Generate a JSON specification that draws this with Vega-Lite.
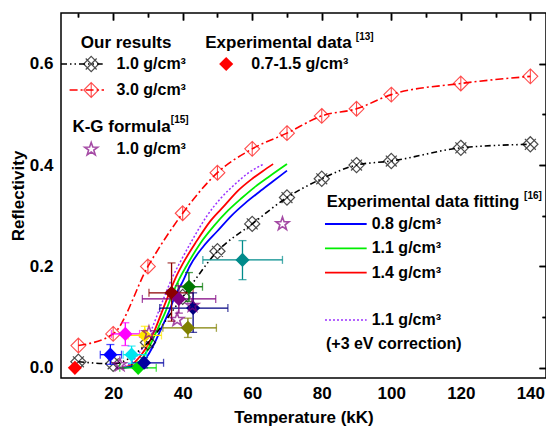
{
  "$schema": "https://vega.github.io/schema/vega-lite/v6.json",
  "width": 485,
  "height": 365,
  "autosize": {"type": "none"},
  "padding": {"left": 61, "top": 13, "right": 0, "bottom": 48},
  "background": "white",
  "config": {
    "view": {"stroke": "black", "strokeWidth": 1.5},
    "axis": {"grid": false, "domain": false, "labelFont": "Liberation Sans", "labelFontWeight": "bold", "labelFontSize": 17, "labelColor": "black", "titleFont": "Liberation Sans", "titleFontWeight": "bold", "titleFontSize": 17, "titleColor": "black", "tickColor": "black", "tickWidth": 1.5}
  },
  "datasets": {
    "one": [{}],
    "ours": [
      {"rho": "1.0", "T": 10, "R": 0.012}, {"rho": "1.0", "T": 20, "R": 0.008}, {"rho": "1.0", "T": 30, "R": 0.05}, {"rho": "1.0", "T": 40, "R": 0.14}, {"rho": "1.0", "T": 50, "R": 0.23}, {"rho": "1.0", "T": 60, "R": 0.284}, {"rho": "1.0", "T": 70, "R": 0.336}, {"rho": "1.0", "T": 80, "R": 0.373}, {"rho": "1.0", "T": 90, "R": 0.4}, {"rho": "1.0", "T": 100, "R": 0.408}, {"rho": "1.0", "T": 120, "R": 0.434}, {"rho": "1.0", "T": 140, "R": 0.441},
      {"rho": "3.0", "T": 10, "R": 0.044}, {"rho": "3.0", "T": 20, "R": 0.067}, {"rho": "3.0", "T": 30, "R": 0.2}, {"rho": "3.0", "T": 40, "R": 0.305}, {"rho": "3.0", "T": 50, "R": 0.385}, {"rho": "3.0", "T": 60, "R": 0.432}, {"rho": "3.0", "T": 70, "R": 0.463}, {"rho": "3.0", "T": 80, "R": 0.497}, {"rho": "3.0", "T": 90, "R": 0.511}, {"rho": "3.0", "T": 100, "R": 0.539}, {"rho": "3.0", "T": 120, "R": 0.561}, {"rho": "3.0", "T": 140, "R": 0.575}
    ],
    "exp": [
      {"set": 1, "T": 9, "R": 0.0, "Tlo": 9, "Thi": 9, "Rlo": 0.0, "Rhi": 0.0},
      {"set": 2, "T": 19.2, "R": 0.026, "Tlo": 16.3, "Thi": 22.4, "Rlo": 0.007, "Rhi": 0.046},
      {"set": 3, "T": 23.5, "R": 0.067, "Tlo": 19.5, "Thi": 27.6, "Rlo": 0.044, "Rhi": 0.089},
      {"set": 4, "T": 25.3, "R": 0.026, "Tlo": 22.9, "Thi": 29.6, "Rlo": 0.009, "Rhi": 0.043},
      {"set": 5, "T": 27.2, "R": 0.0, "Tlo": 21.9, "Thi": 32.4, "Rlo": 0.0, "Rhi": 0.0},
      {"set": 6, "T": 29.1, "R": 0.064, "Tlo": 24.3, "Thi": 33.9, "Rlo": 0.043, "Rhi": 0.082},
      {"set": 7, "T": 28.9, "R": 0.01, "Tlo": 25.3, "Thi": 34.5, "Rlo": 0.0, "Rhi": 0.02},
      {"set": 8, "T": 36.8, "R": 0.148, "Tlo": 30.3, "Thi": 43.0, "Rlo": 0.092, "Rhi": 0.207},
      {"set": 9, "T": 38.9, "R": 0.136, "Tlo": 28.4, "Thi": 49.5, "Rlo": 0.108, "Rhi": 0.162},
      {"set": 10, "T": 41.8, "R": 0.16, "Tlo": 38.7, "Thi": 45.7, "Rlo": 0.131, "Rhi": 0.188},
      {"set": 11, "T": 43.0, "R": 0.118, "Tlo": 33.4, "Thi": 53.0, "Rlo": 0.07, "Rhi": 0.148},
      {"set": 12, "T": 41.5, "R": 0.079, "Tlo": 34.3, "Thi": 49.7, "Rlo": 0.06, "Rhi": 0.098},
      {"set": 13, "T": 57.2, "R": 0.213, "Tlo": 45.8, "Thi": 68.7, "Rlo": 0.174, "Rhi": 0.251}
    ],
    "kg": [
      {"T": 21.9, "R": 0.006}, {"T": 30.3, "R": 0.069}, {"T": 38.4, "R": 0.095}, {"T": 42.8, "R": 0.123}, {"T": 68.7, "R": 0.284}
    ],
    "fit": [
      {"c": "1.4", "T": 22, "R": 0.0}, {"c": "1.4", "T": 25, "R": 0.005}, {"c": "1.4", "T": 28, "R": 0.025}, {"c": "1.4", "T": 30, "R": 0.045}, {"c": "1.4", "T": 32, "R": 0.075}, {"c": "1.4", "T": 34, "R": 0.11}, {"c": "1.4", "T": 36, "R": 0.145}, {"c": "1.4", "T": 38, "R": 0.178}, {"c": "1.4", "T": 40, "R": 0.205}, {"c": "1.4", "T": 44, "R": 0.25}, {"c": "1.4", "T": 48, "R": 0.29}, {"c": "1.4", "T": 52, "R": 0.32}, {"c": "1.4", "T": 56, "R": 0.35}, {"c": "1.4", "T": 60, "R": 0.373}, {"c": "1.4", "T": 63, "R": 0.388}, {"c": "1.4", "T": 66, "R": 0.402},
      {"c": "1.1", "T": 22.5, "R": 0.0}, {"c": "1.1", "T": 26, "R": 0.005}, {"c": "1.1", "T": 29, "R": 0.025}, {"c": "1.1", "T": 31, "R": 0.05}, {"c": "1.1", "T": 33, "R": 0.08}, {"c": "1.1", "T": 35, "R": 0.11}, {"c": "1.1", "T": 37, "R": 0.145}, {"c": "1.1", "T": 39, "R": 0.175}, {"c": "1.1", "T": 41, "R": 0.2}, {"c": "1.1", "T": 45, "R": 0.245}, {"c": "1.1", "T": 49, "R": 0.28}, {"c": "1.1", "T": 53, "R": 0.31}, {"c": "1.1", "T": 57, "R": 0.335}, {"c": "1.1", "T": 61, "R": 0.358}, {"c": "1.1", "T": 65, "R": 0.378}, {"c": "1.1", "T": 70, "R": 0.402},
      {"c": "0.8", "T": 23, "R": 0.0}, {"c": "0.8", "T": 27, "R": 0.005}, {"c": "0.8", "T": 30, "R": 0.025}, {"c": "0.8", "T": 32, "R": 0.05}, {"c": "0.8", "T": 34, "R": 0.08}, {"c": "0.8", "T": 36, "R": 0.11}, {"c": "0.8", "T": 38, "R": 0.145}, {"c": "0.8", "T": 40, "R": 0.17}, {"c": "0.8", "T": 42, "R": 0.2}, {"c": "0.8", "T": 46, "R": 0.24}, {"c": "0.8", "T": 50, "R": 0.27}, {"c": "0.8", "T": 54, "R": 0.3}, {"c": "0.8", "T": 58, "R": 0.325}, {"c": "0.8", "T": 62, "R": 0.347}, {"c": "0.8", "T": 66, "R": 0.368}, {"c": "0.8", "T": 70, "R": 0.389},
      {"c": "1.1+3eV", "T": 21, "R": 0.0}, {"c": "1.1+3eV", "T": 24, "R": 0.005}, {"c": "1.1+3eV", "T": 27, "R": 0.025}, {"c": "1.1+3eV", "T": 29, "R": 0.045}, {"c": "1.1+3eV", "T": 31, "R": 0.075}, {"c": "1.1+3eV", "T": 33, "R": 0.11}, {"c": "1.1+3eV", "T": 35, "R": 0.145}, {"c": "1.1+3eV", "T": 37, "R": 0.178}, {"c": "1.1+3eV", "T": 39, "R": 0.205}, {"c": "1.1+3eV", "T": 43, "R": 0.255}, {"c": "1.1+3eV", "T": 47, "R": 0.3}, {"c": "1.1+3eV", "T": 51, "R": 0.335}, {"c": "1.1+3eV", "T": 55, "R": 0.362}, {"c": "1.1+3eV", "T": 59, "R": 0.385}, {"c": "1.1+3eV", "T": 63.3, "R": 0.402}
    ]
  },
  "resolve": {"axis": {"x": "independent", "y": "independent"}, "scale": {"color": "independent"}},
  "layer": [
    {
      "data": {"name": "fit"},
      "transform": [{"filter": "datum.c != '1.1+3eV'"}],
      "mark": {"type": "line", "strokeWidth": 1.8, "interpolate": "monotone"},
      "encoding": {
        "x": {"field": "T", "type": "quantitative", "scale": {"domain": [5, 144.5]}, "axis": {"values": [20, 40, 60, 80, 100, 120, 140], "ticks": false, "labelPadding": 7, "title": "Temperature (kK)", "titlePadding": 8, "format": "d"}},
        "y": {"field": "R", "type": "quantitative", "scale": {"domain": [-0.02, 0.7]}, "axis": {"values": [0, 0.2, 0.4, 0.6], "ticks": false, "labelPadding": 8, "title": "Reflectivity", "titlePadding": 2, "format": ".1f"}},
        "color": {"field": "c", "type": "nominal", "scale": {"domain": ["0.8", "1.1", "1.4"], "range": ["#0000FF", "#00EE00", "#FF0000"]}, "legend": null}
      }
    },
    {
      "data": {"name": "fit"},
      "transform": [{"filter": "datum.c == '1.1+3eV'"}],
      "mark": {"type": "line", "strokeWidth": 1.5, "strokeDash": [2, 2], "color": "#9B30FF", "interpolate": "monotone"},
      "encoding": {
        "x": {"field": "T", "type": "quantitative", "scale": {"domain": [5, 144.5]}, "axis": {"values": [20, 40, 60, 80, 100, 120, 140], "labels": false, "tickSize": 7, "offset": -7, "title": null}},
        "y": {"field": "R", "type": "quantitative", "scale": {"domain": [-0.02, 0.7]}, "axis": {"values": [0, 0.2, 0.4, 0.6], "labels": false, "tickSize": 7, "offset": -7, "title": null}}
      }
    },
    {
      "data": {"name": "ours"},
      "transform": [{"filter": "datum.rho == '1.0'"}],
      "mark": {"type": "line", "strokeWidth": 1.6, "color": "black", "strokeDash": [6, 3, 1.5, 3, 1.5, 3], "interpolate": "monotone"},
      "encoding": {
        "x": {"field": "T", "type": "quantitative", "scale": {"domain": [5, 144.5]}, "axis": {"values": [10, 30, 50, 70, 90, 110, 130], "labels": false, "tickSize": 4, "offset": -4, "title": null}},
        "y": {"field": "R", "type": "quantitative", "scale": {"domain": [-0.02, 0.7]}, "axis": {"values": [0.1, 0.3, 0.5], "labels": false, "tickSize": 4, "offset": -4, "title": null}}
      }
    },
    {
      "data": {"name": "ours"},
      "transform": [{"filter": "datum.rho == '1.0'"}],
      "mark": {"type": "point", "filled": false, "color": "black", "strokeWidth": 1.2, "size": 230, "shape": "M0,-1L1,0L0,1L-1,0Z M-0.72,-0.72L0.72,0.72 M0.72,-0.72L-0.72,0.72"},
      "encoding": {
        "x": {"field": "T", "type": "quantitative", "scale": {"domain": [5, 144.5]}, "axis": {"orient": "top", "values": [10, 30, 50, 70, 90, 110, 130], "labels": false, "tickSize": 4, "offset": -4, "title": null}},
        "y": {"field": "R", "type": "quantitative", "scale": {"domain": [-0.02, 0.7]}, "axis": {"orient": "right", "values": [0.1, 0.3, 0.5], "labels": false, "tickSize": 4, "offset": -4, "title": null}}
      }
    },
    {
      "data": {"name": "ours"},
      "transform": [{"filter": "datum.rho == '3.0'"}],
      "mark": {"type": "line", "strokeWidth": 1.6, "color": "#FF0000", "strokeDash": [8, 3, 2, 3], "interpolate": "monotone"},
      "encoding": {
        "x": {"field": "T", "type": "quantitative", "scale": {"domain": [5, 144.5]}, "axis": {"orient": "top", "values": [20, 40, 60, 80, 100, 120, 140], "labels": false, "tickSize": 7, "offset": -7, "title": null}},
        "y": {"field": "R", "type": "quantitative", "scale": {"domain": [-0.02, 0.7]}, "axis": {"orient": "right", "values": [0, 0.2, 0.4, 0.6], "labels": false, "tickSize": 7, "offset": -7, "title": null}}
      }
    },
    {
      "data": {"name": "ours"},
      "transform": [{"filter": "datum.rho == '3.0'"}],
      "mark": {"type": "point", "filled": false, "color": "#FF0000", "strokeWidth": 1.1, "size": 220, "shape": "M0,-1L1,0L0,1L-1,0Z M0,-1L0,1"},
      "encoding": {
        "x": {"field": "T", "type": "quantitative", "scale": {"domain": [5, 144.5]}, "axis": null},
        "y": {"field": "R", "type": "quantitative", "scale": {"domain": [-0.02, 0.7]}, "axis": null}
      }
    },
    {
      "data": {"name": "exp"},
      "transform": [{"filter": "datum.set > 1"}],
      "mark": {"type": "errorbar", "orient": "horizontal", "ticks": true, "size": 8, "thickness": 1.3},
      "encoding": {
        "x": {"field": "Tlo", "type": "quantitative", "scale": {"domain": [5, 144.5]}, "axis": null},
        "x2": {"field": "Thi"},
        "y": {"field": "R", "type": "quantitative", "scale": {"domain": [-0.02, 0.7]}, "axis": null},
        "color": {"field": "set", "type": "nominal", "scale": {"domain": [1, 2, 3, 4, 5, 6, 7, 8, 9, 10, 11, 12, 13], "range": ["#FF0000", "#0000FF", "#FF00FF", "#00E5EE", "#00DD00", "#FFE800", "#0000A0", "#8B0000", "#800080", "#007700", "#000080", "#808000", "#008B8B"]}, "legend": null}
      }
    },
    {
      "data": {"name": "exp"},
      "transform": [{"filter": "datum.set > 1"}],
      "mark": {"type": "errorbar", "orient": "vertical", "ticks": true, "size": 8, "thickness": 1.3},
      "encoding": {
        "y": {"field": "Rlo", "type": "quantitative", "scale": {"domain": [-0.02, 0.7]}, "axis": null},
        "y2": {"field": "Rhi"},
        "x": {"field": "T", "type": "quantitative", "scale": {"domain": [5, 144.5]}, "axis": null},
        "color": {"field": "set", "type": "nominal", "scale": {"domain": [1, 2, 3, 4, 5, 6, 7, 8, 9, 10, 11, 12, 13], "range": ["#FF0000", "#0000FF", "#FF00FF", "#00E5EE", "#00DD00", "#FFE800", "#0000A0", "#8B0000", "#800080", "#007700", "#000080", "#808000", "#008B8B"]}, "legend": null}
      }
    },
    {
      "data": {"name": "exp"},
      "mark": {"type": "point", "shape": "diamond", "filled": true, "opacity": 1, "size": 200},
      "encoding": {
        "x": {"field": "T", "type": "quantitative", "scale": {"domain": [5, 144.5]}, "axis": null},
        "y": {"field": "R", "type": "quantitative", "scale": {"domain": [-0.02, 0.7]}, "axis": null},
        "color": {"field": "set", "type": "nominal", "scale": {"domain": [1, 2, 3, 4, 5, 6, 7, 8, 9, 10, 11, 12, 13], "range": ["#FF0000", "#0000FF", "#FF00FF", "#00E5EE", "#00DD00", "#FFE800", "#0000A0", "#8B0000", "#800080", "#007700", "#000080", "#808000", "#008B8B"]}, "legend": null}
      }
    },
    {
      "data": {"name": "kg"},
      "mark": {"type": "point", "filled": false, "color": "#800080", "strokeWidth": 1.6, "size": 190, "shape": "M0,-1L0.235,-0.324L0.951,-0.309L0.38,0.124L0.588,0.809L0,0.4L-0.588,0.809L-0.38,0.124L-0.951,-0.309L-0.235,-0.324Z"},
      "encoding": {
        "x": {"field": "T", "type": "quantitative", "scale": {"domain": [5, 144.5]}, "axis": null},
        "y": {"field": "R", "type": "quantitative", "scale": {"domain": [-0.02, 0.7]}, "axis": null}
      }
    },
    {
      "data": {"name": "one"},
      "mark": {"type": "text", "align": "left", "baseline": "middle", "font": "Liberation Sans", "fontWeight": "bold", "fontSize": 17, "color": "black", "text": "Our results"},
      "encoding": {"x": {"datum": 10.69, "type": "quantitative", "scale": {"domain": [5, 144.5]}, "axis": null}, "y": {"datum": 0.6414, "type": "quantitative", "scale": {"domain": [-0.02, 0.7]}, "axis": null}}
    },
    {
      "data": {"name": "one"},
      "mark": {"type": "rule", "color": "black", "strokeWidth": 1.6, "strokeDash": [6, 3, 1.5, 3, 1.5, 3]},
      "encoding": {"x": {"datum": 5, "type": "quantitative", "scale": {"domain": [5, 144.5]}, "axis": null}, "x2": {"datum": 16.99}, "y": {"datum": 0.5994, "type": "quantitative", "scale": {"domain": [-0.02, 0.7]}, "axis": null}}
    },
    {
      "data": {"name": "one"},
      "mark": {"type": "point", "filled": false, "color": "black", "strokeWidth": 1.2, "size": 230, "shape": "M0,-1L1,0L0,1L-1,0Z M-0.72,-0.72L0.72,0.72 M0.72,-0.72L-0.72,0.72"},
      "encoding": {"x": {"datum": 13.69, "type": "quantitative", "scale": {"domain": [5, 144.5]}, "axis": null}, "y": {"datum": 0.5994, "type": "quantitative", "scale": {"domain": [-0.02, 0.7]}, "axis": null}}
    },
    {
      "data": {"name": "one"},
      "mark": {"type": "text", "align": "left", "baseline": "middle", "font": "Liberation Sans", "fontWeight": "bold", "fontSize": 16, "color": "black", "text": "1.0 g/cm³"},
      "encoding": {"x": {"datum": 20.99, "type": "quantitative", "scale": {"domain": [5, 144.5]}, "axis": null}, "y": {"datum": 0.5994, "type": "quantitative", "scale": {"domain": [-0.02, 0.7]}, "axis": null}}
    },
    {
      "data": {"name": "one"},
      "mark": {"type": "rule", "color": "#FF0000", "strokeWidth": 1.6, "strokeDash": [8, 3, 2, 3]},
      "encoding": {"x": {"datum": 7.47, "type": "quantitative", "scale": {"domain": [5, 144.5]}, "axis": null}, "x2": {"datum": 17.37}, "y": {"datum": 0.5481, "type": "quantitative", "scale": {"domain": [-0.02, 0.7]}, "axis": null}}
    },
    {
      "data": {"name": "one"},
      "mark": {"type": "point", "filled": false, "color": "#FF0000", "strokeWidth": 1.1, "size": 220, "shape": "M0,-1L1,0L0,1L-1,0Z M0,-1L0,1"},
      "encoding": {"x": {"datum": 13.69, "type": "quantitative", "scale": {"domain": [5, 144.5]}, "axis": null}, "y": {"datum": 0.5481, "type": "quantitative", "scale": {"domain": [-0.02, 0.7]}, "axis": null}}
    },
    {
      "data": {"name": "one"},
      "mark": {"type": "text", "align": "left", "baseline": "middle", "font": "Liberation Sans", "fontWeight": "bold", "fontSize": 16, "color": "black", "text": "3.0 g/cm³"},
      "encoding": {"x": {"datum": 20.99, "type": "quantitative", "scale": {"domain": [5, 144.5]}, "axis": null}, "y": {"datum": 0.5481, "type": "quantitative", "scale": {"domain": [-0.02, 0.7]}, "axis": null}}
    },
    {
      "data": {"name": "one"},
      "mark": {"type": "text", "align": "left", "baseline": "middle", "font": "Liberation Sans", "fontWeight": "bold", "fontSize": 17, "color": "black", "text": "Experimental data"},
      "encoding": {"x": {"datum": 46.5, "type": "quantitative", "scale": {"domain": [5, 144.5]}, "axis": null}, "y": {"datum": 0.6414, "type": "quantitative", "scale": {"domain": [-0.02, 0.7]}, "axis": null}}
    },
    {
      "data": {"name": "one"},
      "mark": {"type": "text", "align": "left", "baseline": "middle", "font": "Liberation Sans", "fontWeight": "bold", "fontSize": 10, "color": "black", "text": "[13]"},
      "encoding": {"x": {"datum": 89.8, "type": "quantitative", "scale": {"domain": [5, 144.5]}, "axis": null}, "y": {"datum": 0.6532, "type": "quantitative", "scale": {"domain": [-0.02, 0.7]}, "axis": null}}
    },
    {
      "data": {"name": "one"},
      "mark": {"type": "point", "shape": "diamond", "filled": true, "opacity": 1, "size": 200, "color": "#FF0000"},
      "encoding": {"x": {"datum": 52.51, "type": "quantitative", "scale": {"domain": [5, 144.5]}, "axis": null}, "y": {"datum": 0.5994, "type": "quantitative", "scale": {"domain": [-0.02, 0.7]}, "axis": null}}
    },
    {
      "data": {"name": "one"},
      "mark": {"type": "text", "align": "left", "baseline": "middle", "font": "Liberation Sans", "fontWeight": "bold", "fontSize": 16, "color": "black", "text": "0.7-1.5 g/cm³"},
      "encoding": {"x": {"datum": 59.73, "type": "quantitative", "scale": {"domain": [5, 144.5]}, "axis": null}, "y": {"datum": 0.5994, "type": "quantitative", "scale": {"domain": [-0.02, 0.7]}, "axis": null}}
    },
    {
      "data": {"name": "one"},
      "mark": {"type": "text", "align": "left", "baseline": "middle", "font": "Liberation Sans", "fontWeight": "bold", "fontSize": 17, "color": "black", "text": "K-G formula"},
      "encoding": {"x": {"datum": 8.28, "type": "quantitative", "scale": {"domain": [5, 144.5]}, "axis": null}, "y": {"datum": 0.4757, "type": "quantitative", "scale": {"domain": [-0.02, 0.7]}, "axis": null}}
    },
    {
      "data": {"name": "one"},
      "mark": {"type": "text", "align": "left", "baseline": "middle", "font": "Liberation Sans", "fontWeight": "bold", "fontSize": 10, "color": "black", "text": "[15]"},
      "encoding": {"x": {"datum": 36.6, "type": "quantitative", "scale": {"domain": [5, 144.5]}, "axis": null}, "y": {"datum": 0.4889, "type": "quantitative", "scale": {"domain": [-0.02, 0.7]}, "axis": null}}
    },
    {
      "data": {"name": "one"},
      "mark": {"type": "point", "filled": false, "color": "#800080", "strokeWidth": 1.6, "size": 190, "shape": "M0,-1L0.235,-0.324L0.951,-0.309L0.38,0.124L0.588,0.809L0,0.4L-0.588,0.809L-0.38,0.124L-0.951,-0.309L-0.235,-0.324Z"},
      "encoding": {"x": {"datum": 13.69, "type": "quantitative", "scale": {"domain": [5, 144.5]}, "axis": null}, "y": {"datum": 0.4311, "type": "quantitative", "scale": {"domain": [-0.02, 0.7]}, "axis": null}}
    },
    {
      "data": {"name": "one"},
      "mark": {"type": "text", "align": "left", "baseline": "middle", "font": "Liberation Sans", "fontWeight": "bold", "fontSize": 16, "color": "black", "text": "1.0 g/cm³"},
      "encoding": {"x": {"datum": 20.99, "type": "quantitative", "scale": {"domain": [5, 144.5]}, "axis": null}, "y": {"datum": 0.4311, "type": "quantitative", "scale": {"domain": [-0.02, 0.7]}, "axis": null}}
    },
    {
      "data": {"name": "one"},
      "mark": {"type": "text", "align": "left", "baseline": "middle", "font": "Liberation Sans", "fontWeight": "bold", "fontSize": 16.5, "color": "black", "text": "Experimental data fitting"},
      "encoding": {"x": {"datum": 81.42, "type": "quantitative", "scale": {"domain": [5, 144.5]}, "axis": null}, "y": {"datum": 0.3278, "type": "quantitative", "scale": {"domain": [-0.02, 0.7]}, "axis": null}}
    },
    {
      "data": {"name": "one"},
      "mark": {"type": "text", "align": "left", "baseline": "middle", "font": "Liberation Sans", "fontWeight": "bold", "fontSize": 10, "color": "black", "text": "[16]"},
      "encoding": {"x": {"datum": 138.2, "type": "quantitative", "scale": {"domain": [5, 144.5]}, "axis": null}, "y": {"datum": 0.339, "type": "quantitative", "scale": {"domain": [-0.02, 0.7]}, "axis": null}}
    },
    {
      "data": {"name": "one"},
      "mark": {"type": "rule", "color": "#0000FF", "strokeWidth": 1.8},
      "encoding": {"x": {"datum": 80.93, "type": "quantitative", "scale": {"domain": [5, 144.5]}, "axis": null}, "x2": {"datum": 92.92}, "y": {"datum": 0.2838, "type": "quantitative", "scale": {"domain": [-0.02, 0.7]}, "axis": null}}
    },
    {
      "data": {"name": "one"},
      "mark": {"type": "rule", "color": "#00EE00", "strokeWidth": 1.8},
      "encoding": {"x": {"datum": 80.93, "type": "quantitative", "scale": {"domain": [5, 144.5]}, "axis": null}, "x2": {"datum": 92.92}, "y": {"datum": 0.2358, "type": "quantitative", "scale": {"domain": [-0.02, 0.7]}, "axis": null}}
    },
    {
      "data": {"name": "one"},
      "mark": {"type": "rule", "color": "#FF0000", "strokeWidth": 1.8},
      "encoding": {"x": {"datum": 80.93, "type": "quantitative", "scale": {"domain": [5, 144.5]}, "axis": null}, "x2": {"datum": 92.92}, "y": {"datum": 0.1877, "type": "quantitative", "scale": {"domain": [-0.02, 0.7]}, "axis": null}}
    },
    {
      "data": {"name": "one"},
      "mark": {"type": "rule", "color": "#9B30FF", "strokeWidth": 1.5, "strokeDash": [2, 2]},
      "encoding": {"x": {"datum": 80.93, "type": "quantitative", "scale": {"domain": [5, 144.5]}, "axis": null}, "x2": {"datum": 92.92}, "y": {"datum": 0.0944, "type": "quantitative", "scale": {"domain": [-0.02, 0.7]}, "axis": null}}
    },
    {
      "data": {"name": "one"},
      "mark": {"type": "text", "align": "left", "baseline": "middle", "font": "Liberation Sans", "fontWeight": "bold", "fontSize": 16, "color": "black", "text": "0.8 g/cm³"},
      "encoding": {"x": {"datum": 94.36, "type": "quantitative", "scale": {"domain": [5, 144.5]}, "axis": null}, "y": {"datum": 0.2838, "type": "quantitative", "scale": {"domain": [-0.02, 0.7]}, "axis": null}}
    },
    {
      "data": {"name": "one"},
      "mark": {"type": "text", "align": "left", "baseline": "middle", "font": "Liberation Sans", "fontWeight": "bold", "fontSize": 16, "color": "black", "text": "1.1 g/cm³"},
      "encoding": {"x": {"datum": 94.36, "type": "quantitative", "scale": {"domain": [5, 144.5]}, "axis": null}, "y": {"datum": 0.2358, "type": "quantitative", "scale": {"domain": [-0.02, 0.7]}, "axis": null}}
    },
    {
      "data": {"name": "one"},
      "mark": {"type": "text", "align": "left", "baseline": "middle", "font": "Liberation Sans", "fontWeight": "bold", "fontSize": 16, "color": "black", "text": "1.4 g/cm³"},
      "encoding": {"x": {"datum": 94.36, "type": "quantitative", "scale": {"domain": [5, 144.5]}, "axis": null}, "y": {"datum": 0.1877, "type": "quantitative", "scale": {"domain": [-0.02, 0.7]}, "axis": null}}
    },
    {
      "data": {"name": "one"},
      "mark": {"type": "text", "align": "left", "baseline": "middle", "font": "Liberation Sans", "fontWeight": "bold", "fontSize": 16, "color": "black", "text": "1.1 g/cm³"},
      "encoding": {"x": {"datum": 94.36, "type": "quantitative", "scale": {"domain": [5, 144.5]}, "axis": null}, "y": {"datum": 0.0944, "type": "quantitative", "scale": {"domain": [-0.02, 0.7]}, "axis": null}}
    },
    {
      "data": {"name": "one"},
      "mark": {"type": "text", "align": "left", "baseline": "middle", "font": "Liberation Sans", "fontWeight": "bold", "fontSize": 16, "color": "black", "text": "(+3 eV correction)"},
      "encoding": {"x": {"datum": 81.21, "type": "quantitative", "scale": {"domain": [5, 144.5]}, "axis": null}, "y": {"datum": 0.0465, "type": "quantitative", "scale": {"domain": [-0.02, 0.7]}, "axis": null}}
    }
  ]
}
